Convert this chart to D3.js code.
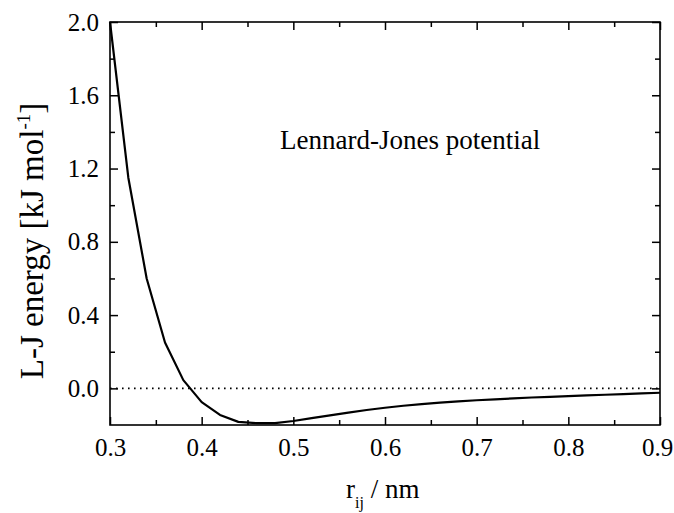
<!DOCTYPE html>
<html>
<head>
<meta charset="utf-8">
<script src="https://cdn.jsdelivr.net/npm/d3@7"></script>
<style>
  body { margin: 0; background: #fff; }
  svg text { font-family: "Liberation Serif", "Times New Roman", serif; fill: #000; }
</style>
</head>
<body>
<svg id="chart" width="674" height="513"></svg>
<script>
// values
const rValues = [0.30, 0.32, 0.34, 0.36, 0.38, 0.40, 0.42, 0.44, 0.46, 0.48, 0.50,
    0.52, 0.54, 0.56, 0.58, 0.60, 0.62, 0.64, 0.66, 0.68, 0.70,
    0.72, 0.74, 0.76, 0.78, 0.80, 0.82, 0.84, 0.86, 0.88, 0.90];
const energyValues = [2.00, 1.15, 0.60, 0.25, 0.045, -0.075, -0.145, -0.183, -0.19, -0.19, -0.178,
    -0.162, -0.147, -0.132, -0.118, -0.106, -0.095, -0.086, -0.078, -0.071, -0.065,
    -0.060, -0.055, -0.050, -0.046, -0.042, -0.038, -0.035, -0.031, -0.027, -0.024];
const xTicks = [0.3, 0.4, 0.5, 0.6, 0.7, 0.8, 0.9];
const xMinor = [0.35, 0.45, 0.55, 0.65, 0.75, 0.85];
const yTicks = [0.0, 0.4, 0.8, 1.2, 1.6, 2.0];
const yMinor = [0.2, 0.6, 1.0, 1.4, 1.8];

const margin = {left: 110, right: 14, top: 22, bottom: 88};
const width = 674, height = 513;
const svg = d3.select('#chart');

const x = d3.scaleLinear().domain([0.3, 0.9]).range([margin.left, width - margin.right]);
const y = d3.scaleLinear().domain([-0.2, 2.0]).range([height - margin.bottom, margin.top]);

const data = rValues.map((r, i) => ({r: r, e: energyValues[i]}));

// zero line
svg.append('line')
    .attr('x1', x(0.3)).attr('x2', x(0.9))
    .attr('y1', y(0)).attr('y2', y(0))
    .attr('stroke', '#000')
    .attr('stroke-width', 1.6)
    .attr('stroke-dasharray', '1.6,4.4');

// curve
svg.append('path')
    .datum(data)
    .attr('fill', 'none')
    .attr('stroke', '#000')
    .attr('stroke-width', 2.2)
    .attr('stroke-linejoin', 'round')
    .attr('d', d3.line().x(d => x(d.r)).y(d => y(d.e)));

// axes, ticks pointing inward
function styleAxis(g) {
    g.selectAll('.domain').remove();
    g.attr('font-family', null);
    g.selectAll('line').attr('stroke', '#000').attr('stroke-width', 1.5);
    g.selectAll('text').attr('font-size', 25);
}

const bottom = svg.append('g').attr('transform', `translate(0,${y(-0.2)})`)
    .call(d3.axisBottom(x).tickValues(xTicks).tickSize(-8).tickPadding(13).tickFormat(d3.format('.1f')));
styleAxis(bottom);
bottom.selectAll('text').attr('dy', '0.71em');
// last label sits at the window edge, nudge it in a little
bottom.selectAll('text').filter(d => d === 0.9).attr('dx', -3);
svg.append('g').attr('transform', `translate(0,${y(-0.2)})`)
    .call(d3.axisBottom(x).tickValues(xMinor).tickSize(-5).tickFormat(''))
    .call(styleAxis);

svg.append('g').attr('transform', `translate(0,${y(2.0)})`)
    .call(d3.axisTop(x).tickValues(xTicks).tickSize(-8).tickFormat(''))
    .call(styleAxis);
svg.append('g').attr('transform', `translate(0,${y(2.0)})`)
    .call(d3.axisTop(x).tickValues(xMinor).tickSize(-5).tickFormat(''))
    .call(styleAxis);

const left = svg.append('g').attr('transform', `translate(${x(0.3)},0)`)
    .call(d3.axisLeft(y).tickValues(yTicks).tickSize(-8).tickPadding(11).tickFormat(d3.format('.1f')));
styleAxis(left);
svg.append('g').attr('transform', `translate(${x(0.3)},0)`)
    .call(d3.axisLeft(y).tickValues(yMinor).tickSize(-5).tickFormat(''))
    .call(styleAxis);

svg.append('g').attr('transform', `translate(${x(0.9)},0)`)
    .call(d3.axisRight(y).tickValues(yTicks).tickSize(-8).tickFormat(''))
    .call(styleAxis);
svg.append('g').attr('transform', `translate(${x(0.9)},0)`)
    .call(d3.axisRight(y).tickValues(yMinor).tickSize(-5).tickFormat(''))
    .call(styleAxis);

// frame
svg.append('rect')
    .attr('x', x(0.3)).attr('y', y(2.0))
    .attr('width', x(0.9) - x(0.3)).attr('height', y(-0.2) - y(2.0))
    .attr('fill', 'none').attr('stroke', '#000').attr('stroke-width', 1.6);

// annotation
svg.append('text')
    .attr('x', 280).attr('y', 149)
    .attr('font-size', 27)
    .text('Lennard-Jones potential');

// axis titles
const xt = svg.append('text')
    .attr('x', 346).attr('y', 498)
    .attr('font-size', 27);
xt.append('tspan').text('r');
xt.append('tspan').attr('font-size', 16).attr('dy', 10).text('ij');
xt.append('tspan').attr('dy', -10).text(' / nm');

const yt = svg.append('text')
    .attr('transform', 'translate(43,241) rotate(-90)')
    .attr('text-anchor', 'middle')
    .attr('font-size', 33);
yt.append('tspan').text('L-J energy [kJ mol');
yt.append('tspan').attr('font-size', 19).attr('dy', -13).text('-1');
yt.append('tspan').attr('dy', 13).text(']');
</script>
</body>
</html>
